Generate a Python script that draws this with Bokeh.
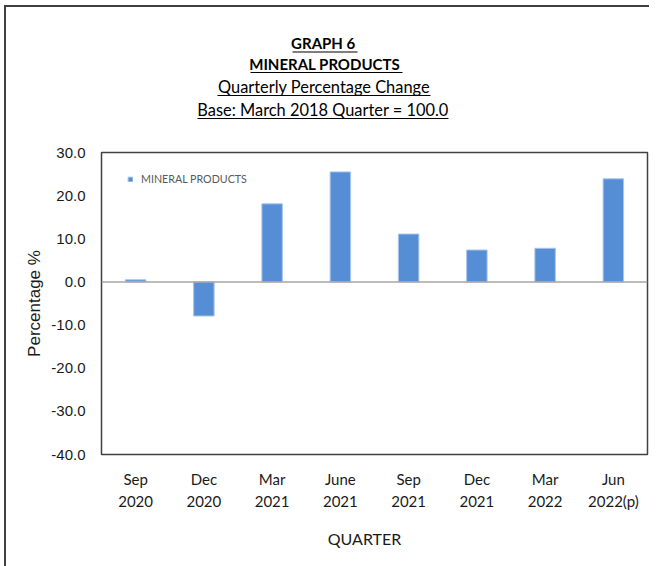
from bokeh.plotting import figure
from bokeh.layouts import column
from bokeh.models import (Legend, LegendItem, NumeralTickFormatter,
                          FixedTicker, Range1d, FactorRange, Span)
from bokeh.core.properties import value
from bokeh.embed import file_html
from bokeh.resources import INLINE

# ---- data ----
quarters = ["Sep\n2020", "Dec\n2020", "Mar\n2021", "June\n2021",
            "Sep\n2021", "Dec\n2021", "Mar\n2022", "Jun\n2022(p)"]
values = [0.5, -7.9, 18.1, 25.5, 11.1, 7.4, 7.8, 23.9]
y_ticks = [-40, -30, -20, -10, 0, 10, 20, 30]
series_name = "MINERAL PRODUCTS"
x_title = "QUARTER"
y_title = "Percentage %"
title_lines = ["GRAPH  6", "MINERAL  PRODUCTS", "Quarterly Percentage Change",
               "Base: March 2018 Quarter = 100.0"]

# ---- layout constants (page px) ----
OX, OY = 6, 7                  # content origin after css margin + border
FRAME_LEFT, FRAME_TOP, FRAME_RIGHT, FRAME_BOTTOM = 101, 152, 647, 454
HEADER_BOTTOM = 140
FOOTER_TOP = 520
PAGE_BOTTOM = 566
W = 643
HH = HEADER_BOTTOM - OY
HM = FOOTER_TOP - HEADER_BOTTOM
HF = PAGE_BOTTOM - FOOTER_TOP
BL = FRAME_LEFT - OX
BR = W - (FRAME_RIGHT - OX)


def text_panel(height, top):
    f = figure(width=W, height=height, x_range=Range1d(FRAME_LEFT, FRAME_RIGHT),
               y_range=Range1d(top + height, top), x_axis_type=None, y_axis_type=None,
               output_backend="svg", toolbar_location=None,
               min_border_left=BL, min_border_right=BR, min_border_top=0, min_border_bottom=0)
    f.title = None
    f.grid.grid_line_color = None
    f.outline_line_color = None
    f.border_fill_color = "white"
    return f


# ---- header (titles with underlines) ----
h = text_panel(HH, OY)
title_x = [324.5, 326, 323.5, 322.5]
title_y = [42, 63, 86, 109]
title_style = ["bold", "bold", "normal", "normal"]
title_size = ["15px", "15px", "16.4px", "16.4px"]
ul_x0 = [292, 250, 217, 197]
ul_x1 = [357, 402, 430, 448]
ul_y = [51.5, 72, 95, 118]
h.text(x=title_x, y=title_y, text=title_lines, text_align="center", text_baseline="middle",
       text_font=value("Lato"), text_font_size=title_size, text_font_style=title_style,
       text_color="#000000")
h.segment(x0=ul_x0, y0=ul_y, x1=ul_x1, y1=ul_y, line_color="#000000", line_width=1.2)

# ---- main chart ----
p = figure(width=W, height=HM,
           x_range=FactorRange(*quarters), y_range=Range1d(-40, 30),
           output_backend="svg", toolbar_location=None,
           min_border_left=BL, min_border_right=BR,
           min_border_top=FRAME_TOP - HEADER_BOTTOM,
           min_border_bottom=FOOTER_TOP - FRAME_BOTTOM)
p.x_range.range_padding = 0

bars = p.vbar(x=quarters, top=values, bottom=0, width=0.3,
              fill_color="#558ed5", line_color="#a9c5ec", line_width=1)

p.add_layout(Span(location=0, dimension="width", line_color="#a6a6a6", line_width=1.5))

p.xgrid.grid_line_color = None
p.ygrid.grid_line_color = None
p.outline_line_color = "#404040"
p.outline_line_width = 1.5
p.background_fill_color = "white"
p.border_fill_color = "white"

# y axis
ya = p.yaxis[0]
ya.ticker = FixedTicker(ticks=y_ticks)
ya.formatter = NumeralTickFormatter(format="0.0")
ya.axis_line_color = None
ya.major_tick_line_color = None
ya.minor_tick_line_color = None
ya.major_label_text_font = "Liberation Sans"
ya.major_label_text_font_size = "15px"
ya.major_label_text_color = "#1a1a1a"
ya.major_label_standoff = 10
ya.axis_label = y_title
ya.axis_label_text_font = "Liberation Sans"
ya.axis_label_text_font_size = "17px"
ya.axis_label_text_font_style = "normal"
ya.axis_label_text_color = "#1a1a1a"
ya.axis_label_standoff = 4

# x axis
xa = p.xaxis[0]
xa.axis_line_color = None
xa.major_tick_line_color = None
xa.minor_tick_line_color = None
xa.major_label_text_font = "Lato"
xa.major_label_text_font_size = "15px"
xa.major_label_text_color = "#1a1a1a"
xa.major_label_text_line_height = 1.23
xa.major_label_standoff = 9

# legend
legend = Legend(items=[LegendItem(label=series_name, renderers=[bars])],
                location=(26, 269), orientation="vertical",
                glyph_width=6, glyph_height=6, label_standoff=8,
                label_text_font="Lato", label_text_font_size="10.7px",
                label_text_color="#595959", label_height=12,
                padding=0, spacing=0, border_line_color=None,
                background_fill_alpha=0)
p.add_layout(legend)

# ---- footer (x axis title) ----
f = text_panel(HF, FOOTER_TOP)
f.text(x=[364], y=[538], text=[x_title], text_align="center", text_baseline="middle",
       text_font=value("Lato"), text_font_size="16px", text_color="#1a1a1a")

layout = column(h, p, f, spacing=0,
                styles={"margin-left": "4px", "margin-top": "5px",
                        "border-left": "2px solid #404040",
                        "border-top": "2px solid #404040"})

open("out.html", "w").write(file_html(layout, INLINE))
